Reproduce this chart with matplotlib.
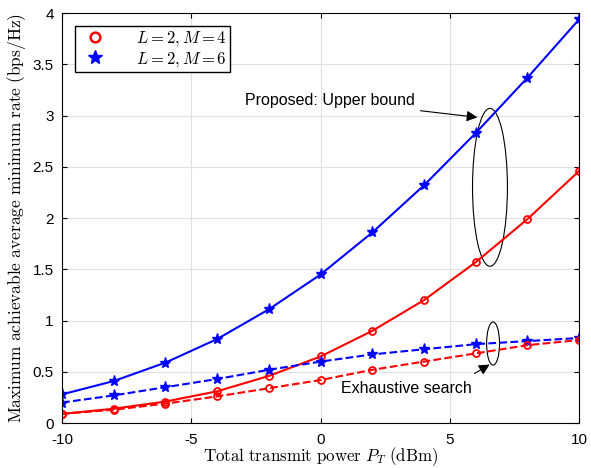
import numpy as np
import matplotlib.pyplot as plt
from matplotlib.lines import Line2D
from matplotlib.patches import Ellipse

plt.rcParams['font.family'] = ['Liberation Sans', 'DejaVu Sans']
plt.rcParams['mathtext.fontset'] = 'cm'
plt.rcParams['axes.unicode_minus'] = False

# data
PT = [-10, -8, -6, -4, -2, 0, 2, 4, 6, 8, 10]
ub_M4 = [0.09, 0.14, 0.21, 0.31, 0.46, 0.65, 0.90, 1.20, 1.57, 1.99, 2.46]
ub_M6 = [0.28, 0.41, 0.59, 0.82, 1.11, 1.45, 1.86, 2.32, 2.83, 3.37, 3.94]
es_M4 = [0.09, 0.13, 0.19, 0.26, 0.34, 0.42, 0.52, 0.60, 0.68, 0.76, 0.81]
es_M6 = [0.20, 0.27, 0.35, 0.43, 0.52, 0.60, 0.67, 0.72, 0.77, 0.80, 0.83]
labels = [r'$L=2, M=4$', r'$L=2, M=6$']

fig = plt.figure(figsize=(5.91, 4.68), dpi=100)
ax = fig.add_axes([0.105, 0.096, 0.875, 0.876])

ax.plot(PT, ub_M6, '-', color='blue', lw=1.5, marker='*', ms=8)
ax.plot(PT, ub_M4, '-', color='red', lw=1.5, marker='o', ms=5, mfc='none', mew=1.3)
ax.plot(PT, es_M6, '--', color='blue', lw=1.5, marker='*', ms=8)
ax.plot(PT, es_M4, '--', color='red', lw=1.5, marker='o', ms=5, mfc='none', mew=1.3)

# ellipses + annotations
ax.add_patch(Ellipse((6.55, 2.30), 1.35, 1.54, fill=False, ec='black', lw=0.8))
ax.add_patch(Ellipse((6.67, 0.776), 0.5, 0.42, fill=False, ec='black', lw=0.8))
ax.annotate('Proposed: Upper bound', xy=(6.17, 2.98), xytext=(3.65, 3.15),
            ha='right', va='center', fontsize=11.5,
            arrowprops=dict(arrowstyle='-|>', color='black', lw=0.8, mutation_scale=16))
ax.annotate('', xy=(6.63, 0.585), xytext=(5.86, 0.47),
            arrowprops=dict(arrowstyle='-|>', color='black', lw=0.8, mutation_scale=16))
ax.text(0.8, 0.34, 'Exhaustive search', ha='left', va='center', fontsize=11.5)

ax.set_xlim(-10, 10)
ax.set_ylim(0, 4)
ax.set_xticks([-10, -5, 0, 5, 10])
ax.set_yticks(np.arange(0, 4.01, 0.5))
ax.set_yticklabels(['0', '0.5', '1', '1.5', '2', '2.5', '3', '3.5', '4'])
ax.tick_params(direction='in', top=True, right=True, labelsize=11)
ax.tick_params(axis='x', pad=7)
ax.tick_params(axis='y', pad=6)
ax.grid(True, color='#e0e0e0', lw=0.8)
ax.set_axisbelow(True)

ax.set_xlabel(r'$\mathrm{Total\ transmit\ power\ }P_T\mathrm{\ (dBm)}$', fontsize=12.2, labelpad=-1)
ax.set_ylabel(r'$\mathrm{Maximum\ achievable\ average\ minimum\ rate\ (bps/Hz)}$', fontsize=12.5, labelpad=3)

handles = [Line2D([], [], ls='none', marker='o', color='red', mfc='none', ms=7, mew=1.8),
           Line2D([], [], ls='none', marker='*', color='blue', ms=10)]
ax.legend(handles, labels, loc='upper left', bbox_to_anchor=(0.008, 0.99), fontsize=12,
          fancybox=False, edgecolor='black', framealpha=1, borderpad=0.2,
          handletextpad=1.5, labelspacing=0.1)

fig.savefig('out.png', dpi=100)
